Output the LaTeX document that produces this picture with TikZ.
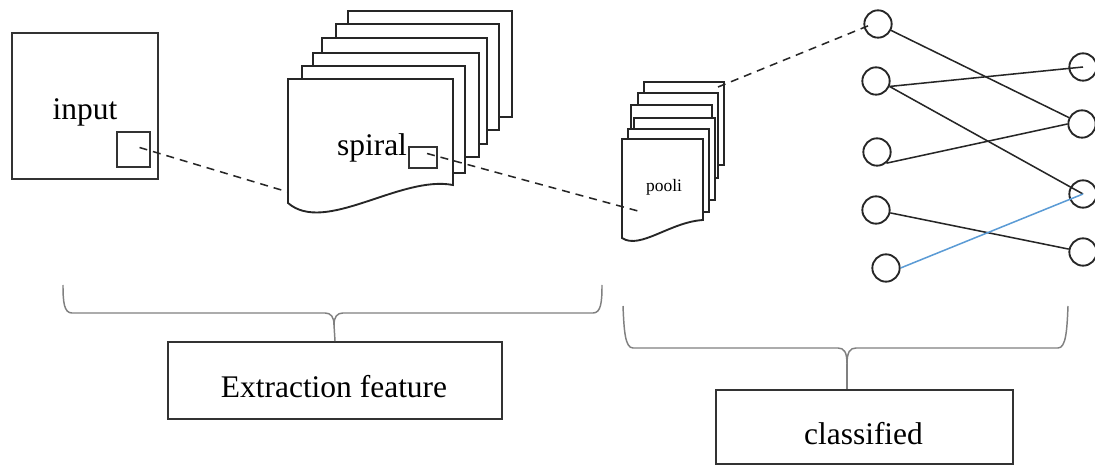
\documentclass[tikz,border=0pt]{standalone}
\usepackage{fontspec}
\setmainfont{Liberation Serif}
\begin{document}
\begin{tikzpicture}[x=0.75pt,y=-0.75pt,
  frame/.style={draw=black!80, line width=1.4pt, inner sep=0pt},
  sheet/.style={draw=black!85, fill=white, line width=1.4pt, line join=miter},
  link/.style={draw=black!85, line width=1.15pt},
  bluelink/.style={draw=linkblue, line width=1.15pt},
  dashlink/.style={draw=black!85, line width=1.15pt, dash pattern=on 6pt off 4.5pt},
  neuron/.style={circle, draw=black!85, line width=1.4pt, minimum size=20.5pt, inner sep=0pt},
  brace/.style={draw=black!50, line width=1.1pt},
  bigtext/.style={font=\fontsize{23.6}{28}\selectfont, inner sep=0pt},
  smalltext/.style={font=\fontsize{13.1}{15}\selectfont, inner sep=0pt}
]
\definecolor{linkblue}{RGB}{91,155,213}
\useasboundingbox (0,0) rectangle (1095,466);

% input image with its receptive window
\node[frame, minimum width=109.5pt, minimum height=109.5pt] (inbox) at (85,106) {};
\node[bigtext, anchor=base] (intext) at (85,120) {input};
\node[frame, minimum width=24.75pt, minimum height=26.25pt] (inwin) at (133.5,149.5) {};

% stack of convolution feature maps
\filldraw[sheet] (348,11) rectangle (512,117);
\filldraw[sheet] (336,24) rectangle (499,130);
\filldraw[sheet] (322,38) rectangle (487,144);
\filldraw[sheet] (313,53) rectangle (479,157);
\filldraw[sheet] (302,66) rectangle (465,173);
\filldraw[sheet] (288,79) -- (453,79) -- (453,185)
  .. controls (400,175) and (325,235) .. (288,203) -- cycle;
\node[bigtext, anchor=base] (sptext) at (372,156) {spiral};
\node[frame, minimum width=21pt, minimum height=15.75pt] (spwin) at (423,157.5) {};
\coordinate (spin) at (288,192);

% stack of pooling maps
\filldraw[sheet] (644,82) rectangle (724,165);
\filldraw[sheet] (638,93) rectangle (718,178);
\filldraw[sheet] (631,105) rectangle (712,190);
\filldraw[sheet] (634,118) rectangle (715,200);
\filldraw[sheet] (628,129) rectangle (709,212);
\filldraw[sheet] (622,139) -- (703,139) -- (703,220)
  .. controls (670,222) and (640,250) .. (622,238) -- cycle;
\node[smalltext, anchor=base] (pltext) at (664,192) {pooli};
\coordinate (plin) at (638,211);
\coordinate (plout) at (718,87);

% fully connected layers
\node[neuron] (a1) at (878,24) {};
\node[neuron] (a2) at (876,81) {};
\node[neuron] (a3) at (877,152) {};
\node[neuron] (a4) at (876,210) {};
\node[neuron] (a5) at (886,268) {};
\node[neuron] (b1) at (1083,67) {};
\node[neuron] (b2) at (1082,124) {};
\node[neuron] (b3) at (1083,194) {};
\node[neuron] (b4) at (1083,252) {};

\draw[link] (a1) -- (b2);
\draw[link] (a2.-22) -- (b1.center);
\draw[link] (a2.-22) -- (b3.center);
\draw[link] (a3.-50) -- (b2.west);
\draw[link] (a4) -- (b4);
\draw[bluelink] (a5.east) -- (b3.center);

% dashed correspondences between layers
\draw[dashlink] ([shift={(6,-2)}]inwin.center) -- (spin);
\draw[dashlink] ([shift={(4,-4)}]spwin.center) -- (plin);
\draw[dashlink] (plout) -- ([xshift=-4pt]a1.center);

% captions with their braces
\node[frame, minimum width=250.5pt, minimum height=57.75pt] (fx) at (335,380.5) {};
\node[bigtext, anchor=base] (fxtext) at (334,397) {Extraction feature};
\coordinate (tipL) at (334,325);
\draw[brace] (63,285) .. controls (63,302) and (64,313) .. (72,313) -- (325,313)
  .. controls (331,313) and (334,317) .. (tipL);
\draw[brace] (602,285) .. controls (602,302) and (601,313) .. (593,313) -- (343,313)
  .. controls (337,313) and (334,317) .. (tipL);
\draw[brace] (tipL) -- (fx.north);

\node[frame, minimum width=222.75pt, minimum height=55.5pt] (cl) at (864.5,427) {};
\node[bigtext, anchor=base] (cltext) at (863.5,444) {classified};
\coordinate (tipR) at (847,364);
\draw[brace] (623,306) .. controls (624,330) and (625,348) .. (633,348) -- (838,348)
  .. controls (844,348) and (847,352) .. (tipR);
\draw[brace] (1068,306) .. controls (1067,330) and (1066,348) .. (1058,348) -- (856,348)
  .. controls (850,348) and (847,352) .. (tipR);
\draw[brace] (tipR) -- (tipR |- cl.north);
\end{tikzpicture}
\end{document}
